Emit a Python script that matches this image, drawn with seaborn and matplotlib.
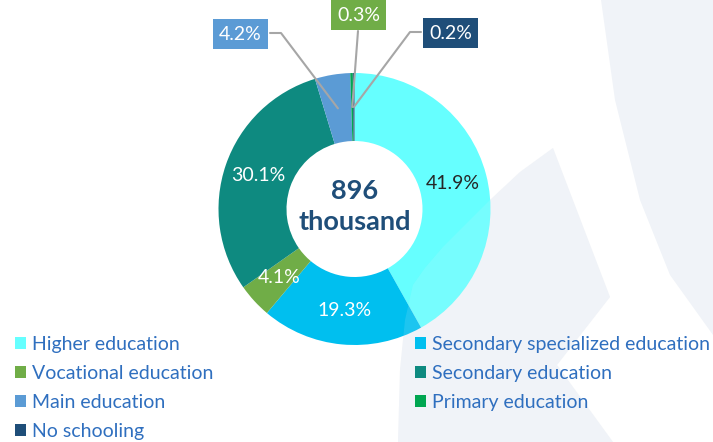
import numpy as np
import matplotlib
matplotlib.use("Agg")
import matplotlib.pyplot as plt
from matplotlib.patches import Polygon, Patch
import seaborn as sns

# --- datos ---
categorias = ["Higher education", "Secondary specialized education", "Vocational education",
              "Secondary education", "Main education", "Primary education", "No schooling"]
porcentajes = [41.9, 19.3, 4.1, 30.1, 4.2, 0.3, 0.2]
colores = ["#66FFFF", "#00BFEF", "#70AD47", "#0E8A80", "#5B9BD5", "#00A651", "#1F4E79"]
total_txt = "896\nthousand"

sns.set_theme(style="white")
plt.rcParams["font.family"] = ["Lato", "DejaVu Sans"]

W, H = 713, 442
fig = plt.figure(figsize=(W / 100, H / 100), dpi=100)
fig.patch.set_facecolor("white")

# --- fondo decorativo ---
ax_bg = fig.add_axes([0, 0, 1, 1], zorder=-1)
ax_bg.set_xlim(0, W)
ax_bg.set_ylim(H, 0)
ax_bg.axis("off")
claro = "#F0F3F8"
forma_a = [(601, 0), (615, 100), (640, 200), (670, 275), (713, 335), (713, 0)]
forma_b = [(553, 148), (610, 297), (557, 365), (613, 442), (398, 442), (400, 370), (405, 320),
           (413, 285), (425, 268), (443, 247), (465, 225), (490, 200), (520, 172)]
ax_bg.add_patch(Polygon(forma_a, closed=True, facecolor=claro, edgecolor="none"))
ax_bg.add_patch(Polygon(forma_b, closed=True, facecolor=claro, edgecolor="none"))

# --- donut ---
cx, cy, R = 354.5, 209, 136
ax = fig.add_axes([(cx - R) / W, 1 - (cy + R) / H, 2 * R / W, 2 * R / H])
ax.patch.set_alpha(0)
wedges, _ = ax.pie(porcentajes, colors=colores, startangle=90, counterclock=False,
                   wedgeprops=dict(width=0.5, edgecolor="none"), radius=1)
ax.set_xlim(-1, 1)
ax.set_ylim(-1, 1)
ax.add_patch(Polygon(forma_b, closed=True, facecolor=claro, edgecolor="none", alpha=0.12,
                     transform=ax_bg.transData, zorder=5, clip_on=False))


def punto_medio(w, r=0.75):
    ang = np.deg2rad((w.theta1 + w.theta2) / 2)
    return r * np.cos(ang), r * np.sin(ang)


def a_datos(px, py):
    return (px - cx) / R, (cy - py) / R


# etiquetas internas
color_txt = {0: "#262626"}
for i in [0, 1, 2, 3]:
    x, y = punto_medio(wedges[i])
    ax.text(x, y, f"{porcentajes[i]}%", ha="center", va="center", fontsize=14,
            color=color_txt.get(i, "white"), zorder=6)

# etiquetas externas con cajas
gris = "#A6A6A6"
cajas = {4: (240.5, 34), 5: (358.5, 15), 6: (450.5, 33)}
for i, (bx, by) in cajas.items():
    x, y = punto_medio(wedges[i])
    tx, ty = a_datos(bx, by)
    if i == 4:
        e1 = a_datos(270, 33)
        e2 = a_datos(281, 33)
        xs, ys = [e1[0], e2[0], x], [e1[1], e2[1], y]
    elif i == 5:
        e1 = a_datos(358, 31)
        xs, ys = [e1[0], x], [e1[1], y]
    else:
        e1 = a_datos(421, 32)
        e2 = a_datos(410, 32)
        xs, ys = [e1[0], e2[0], x], [e1[1], e2[1], y]
    ax.plot(xs, ys, color=gris, lw=1.5, clip_on=False, zorder=7)
    caja = "#70AD47" if i == 5 else colores[i]
    ax.text(tx, ty, f"{porcentajes[i]}%", ha="center", va="center", fontsize=14, color="white",
            clip_on=False, zorder=8,
            bbox=dict(boxstyle="square,pad=0.33", facecolor=caja, edgecolor="none"))

# texto central
ax.text(0, 0.02, total_txt, ha="center", va="center", fontsize=19.5, fontweight="bold",
        color="#1F4E79", linespacing=1.35, zorder=6)

# --- leyenda en dos columnas ---
azul_txt = "#2F6FBF"
manejadores = [Patch(facecolor=c, edgecolor="none", label=l) for c, l in zip(colores, categorias)]
izq = [manejadores[i] for i in [0, 2, 4, 6]]
der = [manejadores[i] for i in [1, 3, 5]]
opts = dict(loc="upper left", frameon=False, fontsize=14, handlelength=0.55, handleheight=0.55,
            handletextpad=0.35, labelspacing=0.62, borderpad=0, borderaxespad=0,
            labelcolor=azul_txt)
fig.legend(handles=izq, bbox_to_anchor=(15 / W, 1 - 336 / H), **opts)
fig.legend(handles=der, bbox_to_anchor=(415 / W, 1 - 336 / H), **opts)

fig.savefig("out.png", dpi=100)
